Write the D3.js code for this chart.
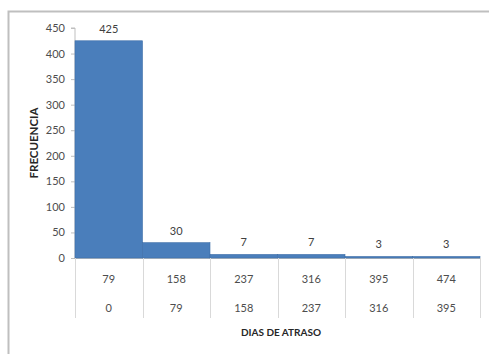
<!DOCTYPE html>
<html>
<head>
<meta charset="utf-8">
<script src="https://cdn.jsdelivr.net/npm/d3@7"></script>
<style>
  html, body { margin: 0; padding: 0; background: #fff; }
  svg { display: block; }
  text { font-family: Lato, "Liberation Sans", Arial, sans-serif; }
</style>
</head>
<body>
<svg id="chart" width="489" height="354"></svg>
<script>
// Class limits (days late) and frequency per class
const upperLimits = [79, 158, 237, 316, 395, 474];
const lowerLimits = [0, 79, 158, 237, 316, 395];
const frequencies = [425, 30, 7, 7, 3, 3];
const yTicks = [0, 50, 100, 150, 200, 250, 300, 350, 400, 450];

const svg = d3.select("#chart");
const margin = { left: 75, right: 9, top: 28, bottom: 96 };
const W = 489, H = 354;
const plotBottom = H - margin.bottom;

// Chart frame
svg.append("path")
  .attr("d", `M8.5,${H} V11.5 H${W}`)
  .attr("fill", "none")
  .attr("stroke", "#bfbfbf")
  .attr("stroke-width", 2);

const x = d3.scaleBand()
  .domain(d3.range(frequencies.length))
  .range([margin.left, W - margin.right])
  .padding(0);

const y = d3.scaleLinear()
  .domain([0, 450])
  .range([plotBottom, margin.top]);

// Y axis
const yAxis = svg.append("g")
  .attr("transform", `translate(${margin.left},0)`)
  .call(d3.axisLeft(y).tickValues(yTicks).tickSize(4).tickPadding(6));
yAxis.select(".domain").attr("stroke", "#bfbfbf").attr("d", `M-4,${y(450)}H0V${plotBottom}`);
yAxis.selectAll(".tick line").attr("stroke", "#bfbfbf");
yAxis.selectAll(".tick text")
  .attr("fill", "#4d4d4d")
  .attr("font-size", 11);

// Baseline
svg.append("line")
  .attr("x1", margin.left).attr("x2", x.range()[1])
  .attr("y1", plotBottom + 0.5).attr("y2", plotBottom + 0.5)
  .attr("stroke", "#bfbfbf");

// Bars
svg.append("g").selectAll("rect")
  .data(frequencies)
  .join("rect")
  .attr("x", (d, i) => x(i))
  .attr("width", x.bandwidth())
  .attr("y", d => y(d))
  .attr("height", d => plotBottom - y(d))
  .attr("fill", "#4a7ebb")
  .attr("stroke", "#3f6fa8")
  .attr("stroke-width", 0.6);

// Value labels
svg.append("g").selectAll("text")
  .data(frequencies)
  .join("text")
  .attr("x", (d, i) => x(i) + x.bandwidth() / 2)
  .attr("y", d => y(d) - 8)
  .attr("text-anchor", "middle")
  .attr("fill", "#404040")
  .attr("font-size", 11)
  .text(d => d);

// Category table: separators and two rows of class limits
const tableBottom = plotBottom + 60;
const seps = d3.range(frequencies.length + 1).map(i => i < frequencies.length ? x(i) : x.range()[1]);
svg.append("g").selectAll("line")
  .data(seps)
  .join("line")
  .attr("x1", d => Math.round(d) + 0.5).attr("x2", d => Math.round(d) + 0.5)
  .attr("y1", plotBottom).attr("y2", tableBottom)
  .attr("stroke", "#d9d9d9");

const rows = [upperLimits, lowerLimits];
rows.forEach((row, r) => {
  svg.append("g").selectAll("text")
    .data(row)
    .join("text")
    .attr("x", (d, i) => x(i) + x.bandwidth() / 2)
    .attr("y", plotBottom + 25 + r * 29)
    .attr("text-anchor", "middle")
    .attr("fill", "#4d4d4d")
    .attr("font-size", 11)
    .text(d => d);
});

// Axis titles
svg.append("text")
  .attr("x", 281)
  .attr("y", 336)
  .attr("text-anchor", "middle")
  .attr("font-size", 10)
  .attr("font-weight", "bold")
  .attr("fill", "#262626")
  .text("DIAS DE ATRASO");

svg.append("text")
  .attr("transform", `translate(38,${(margin.top + plotBottom) / 2}) rotate(-90)`)
  .attr("text-anchor", "middle")
  .attr("font-size", 11.5)
  .attr("font-weight", "bold")
  .attr("fill", "#262626")
  .text("FRECUENCIA");
</script>
</body>
</html>
